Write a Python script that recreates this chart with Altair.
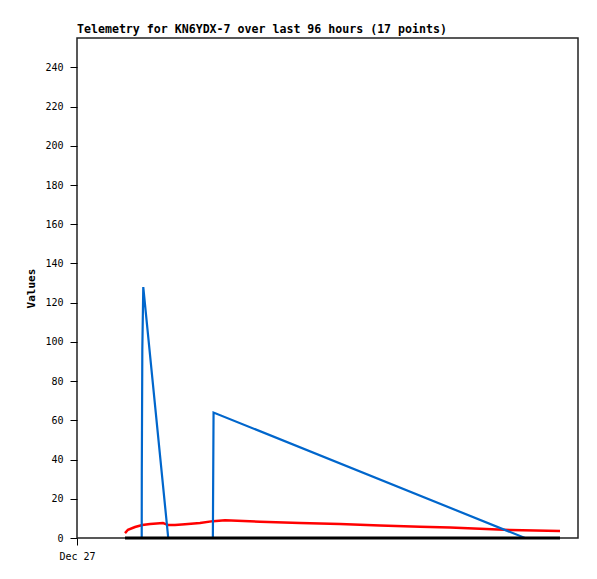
import altair as alt
import pandas as pd

# Times (local) and values
blue_times = ["2023-12-27T09:12", "2023-12-27T12:24", "2023-12-27T12:25", "2023-12-27T12:31",
              "2023-12-27T12:42", "2023-12-27T17:29", "2023-12-28T02:02", "2023-12-28T02:10",
              "2023-12-30T13:51", "2023-12-30T20:33"]
blue_vals = [0, 0, 32, 96, 128, 0, 0, 64, 0, 0]

red_times = ["2023-12-27T09:12", "2023-12-27T09:46", "2023-12-27T11:07", "2023-12-27T12:31",
             "2023-12-27T14:00", "2023-12-27T16:29", "2023-12-27T17:29", "2023-12-27T18:47",
             "2023-12-27T20:42", "2023-12-27T23:34", "2023-12-28T02:04", "2023-12-28T04:22",
             "2023-12-28T11:04", "2023-12-28T18:44", "2023-12-29T02:24", "2023-12-29T10:04",
             "2023-12-29T17:44", "2023-12-29T23:29", "2023-12-30T05:13", "2023-12-30T10:58",
             "2023-12-30T20:33"]
red_vals = [2.5, 4.2, 5.6, 6.6, 7.1, 7.6, 6.6, 6.6, 7.0, 7.6, 8.6, 9.0,
            8.3, 7.6, 7.1, 6.4, 5.8, 5.3, 4.7, 4.1, 3.6]

black_times = ["2023-12-27T09:12", "2023-12-30T20:33"]
black_vals = [0, 0]

red_df = pd.DataFrame({"time": red_times, "value": red_vals})
blue_df = pd.DataFrame({"time": blue_times, "value": blue_vals})
black_df = pd.DataFrame({"time": black_times, "value": black_vals})

font = "DejaVu Sans Mono"

x = alt.X("time:T",
          scale=alt.Scale(domain=[alt.DateTime(year=2023, month=12, date=27, hours=0),
                                  alt.DateTime(year=2023, month=12, date=31, hours=0)]),
          axis=alt.Axis(title=None, values=[alt.DateTime(year=2023, month=12, date=27, hours=0)],
                        format="%b %d", grid=False, domain=False, tickSize=7,
                        tickColor="black", labelColor="black", labelFont=font, labelFontSize=10,
                        labelPadding=6, labelFlush=False))
y = alt.Y("value:Q",
          scale=alt.Scale(domain=[0, 255], nice=False, zero=True),
          axis=alt.Axis(title="Values", values=list(range(0, 241, 20)), grid=False,
                        domain=False, tickSize=7, tickColor="black", labelColor="black",
                        labelFont=font, labelFontSize=10, labelPadding=7,
                        titleFont=font, titleFontSize=11, titleFontWeight="bold",
                        titleColor="black", titlePadding=8))

red = alt.Chart(red_df).mark_line(color="#ff0000", strokeWidth=2.5).encode(x=x, y=y)
blue = alt.Chart(blue_df).mark_line(color="#0066cc", strokeWidth=2.2).encode(x=x, y=y)
black = alt.Chart(black_df).mark_line(color="#000000", strokeWidth=3).encode(x=x, y=y)

chart = alt.layer(red, blue, black).properties(
    width=501, height=500,
    title=alt.TitleParams("Telemetry for KN6YDX-7 over last 96 hours (17 points)",
                          anchor="start", frame="group", font=font, fontSize=11.6,
                          fontWeight="bold", color="black", offset=2),
    autosize=alt.AutoSizeParams(type="none"),
    padding={"left": 69, "top": 30, "right": 10, "bottom": 30},
).configure(background="white").configure_view(stroke="#222222", strokeWidth=1.5)

chart.save("out.html", embed_options={"renderer": "svg", "actions": False})
